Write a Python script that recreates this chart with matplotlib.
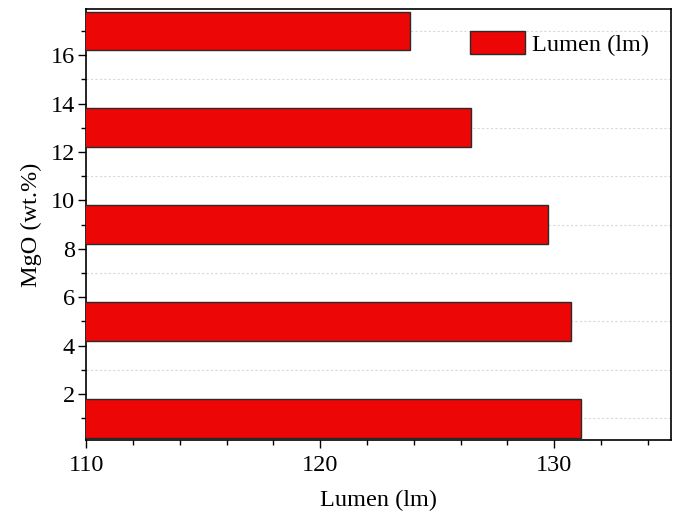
import numpy as np
import matplotlib.pyplot as plt
from matplotlib.ticker import MultipleLocator

plt.rcParams['font.family'] = ['Liberation Serif', 'DejaVu Serif']

# MgO content (wt.%) and luminous flux
mgo = [1, 5, 9, 13, 17]
lumen = [131.15, 130.7, 129.75, 126.45, 123.85]

fig = plt.figure(figsize=(6.78, 5.14), dpi=100)
ax = fig.add_axes([0.127, 0.144, 0.863, 0.838])

ax.barh(mgo, lumen, height=1.6, left=0, color='#ec0606', edgecolor='#2a2a2a',
        linewidth=1.0, label='Lumen (lm)', zorder=3)

ax.set_xlim(110, 135)
ax.set_ylim(0.1, 17.9)

ax.xaxis.set_major_locator(MultipleLocator(10))
ax.xaxis.set_minor_locator(MultipleLocator(2))
ax.yaxis.set_major_locator(MultipleLocator(2))
ax.yaxis.set_minor_locator(MultipleLocator(1))
ax.set_yticks(np.arange(2, 18, 2))

# dotted grid on the odd (minor) y positions
ax.grid(axis='y', which='minor', linestyle=(0, (2, 2)), color='#d8d8d8',
        linewidth=0.8, zorder=0)
ax.grid(axis='y', which='major', visible=False)

ax.tick_params(which='major', direction='out', length=6, width=1,
               labelsize=17.5, top=False, right=False)
ax.tick_params(which='minor', direction='out', length=3.5, width=1,
               top=False, right=False)
ax.tick_params(axis='x', pad=5)
ax.tick_params(axis='y', pad=2)

for s in ax.spines.values():
    s.set_linewidth(1.2)

ax.set_xlabel('Lumen (lm)', fontsize=17.5, labelpad=10)
ax.set_ylabel('MgO (wt.%)', fontsize=17.5, labelpad=6)

ax.legend(loc='upper right', frameon=False, fontsize=17.5, handlelength=2.25,
          handleheight=1.1, handletextpad=0.3, borderaxespad=0.5)

fig.savefig('out.png', dpi=100)
